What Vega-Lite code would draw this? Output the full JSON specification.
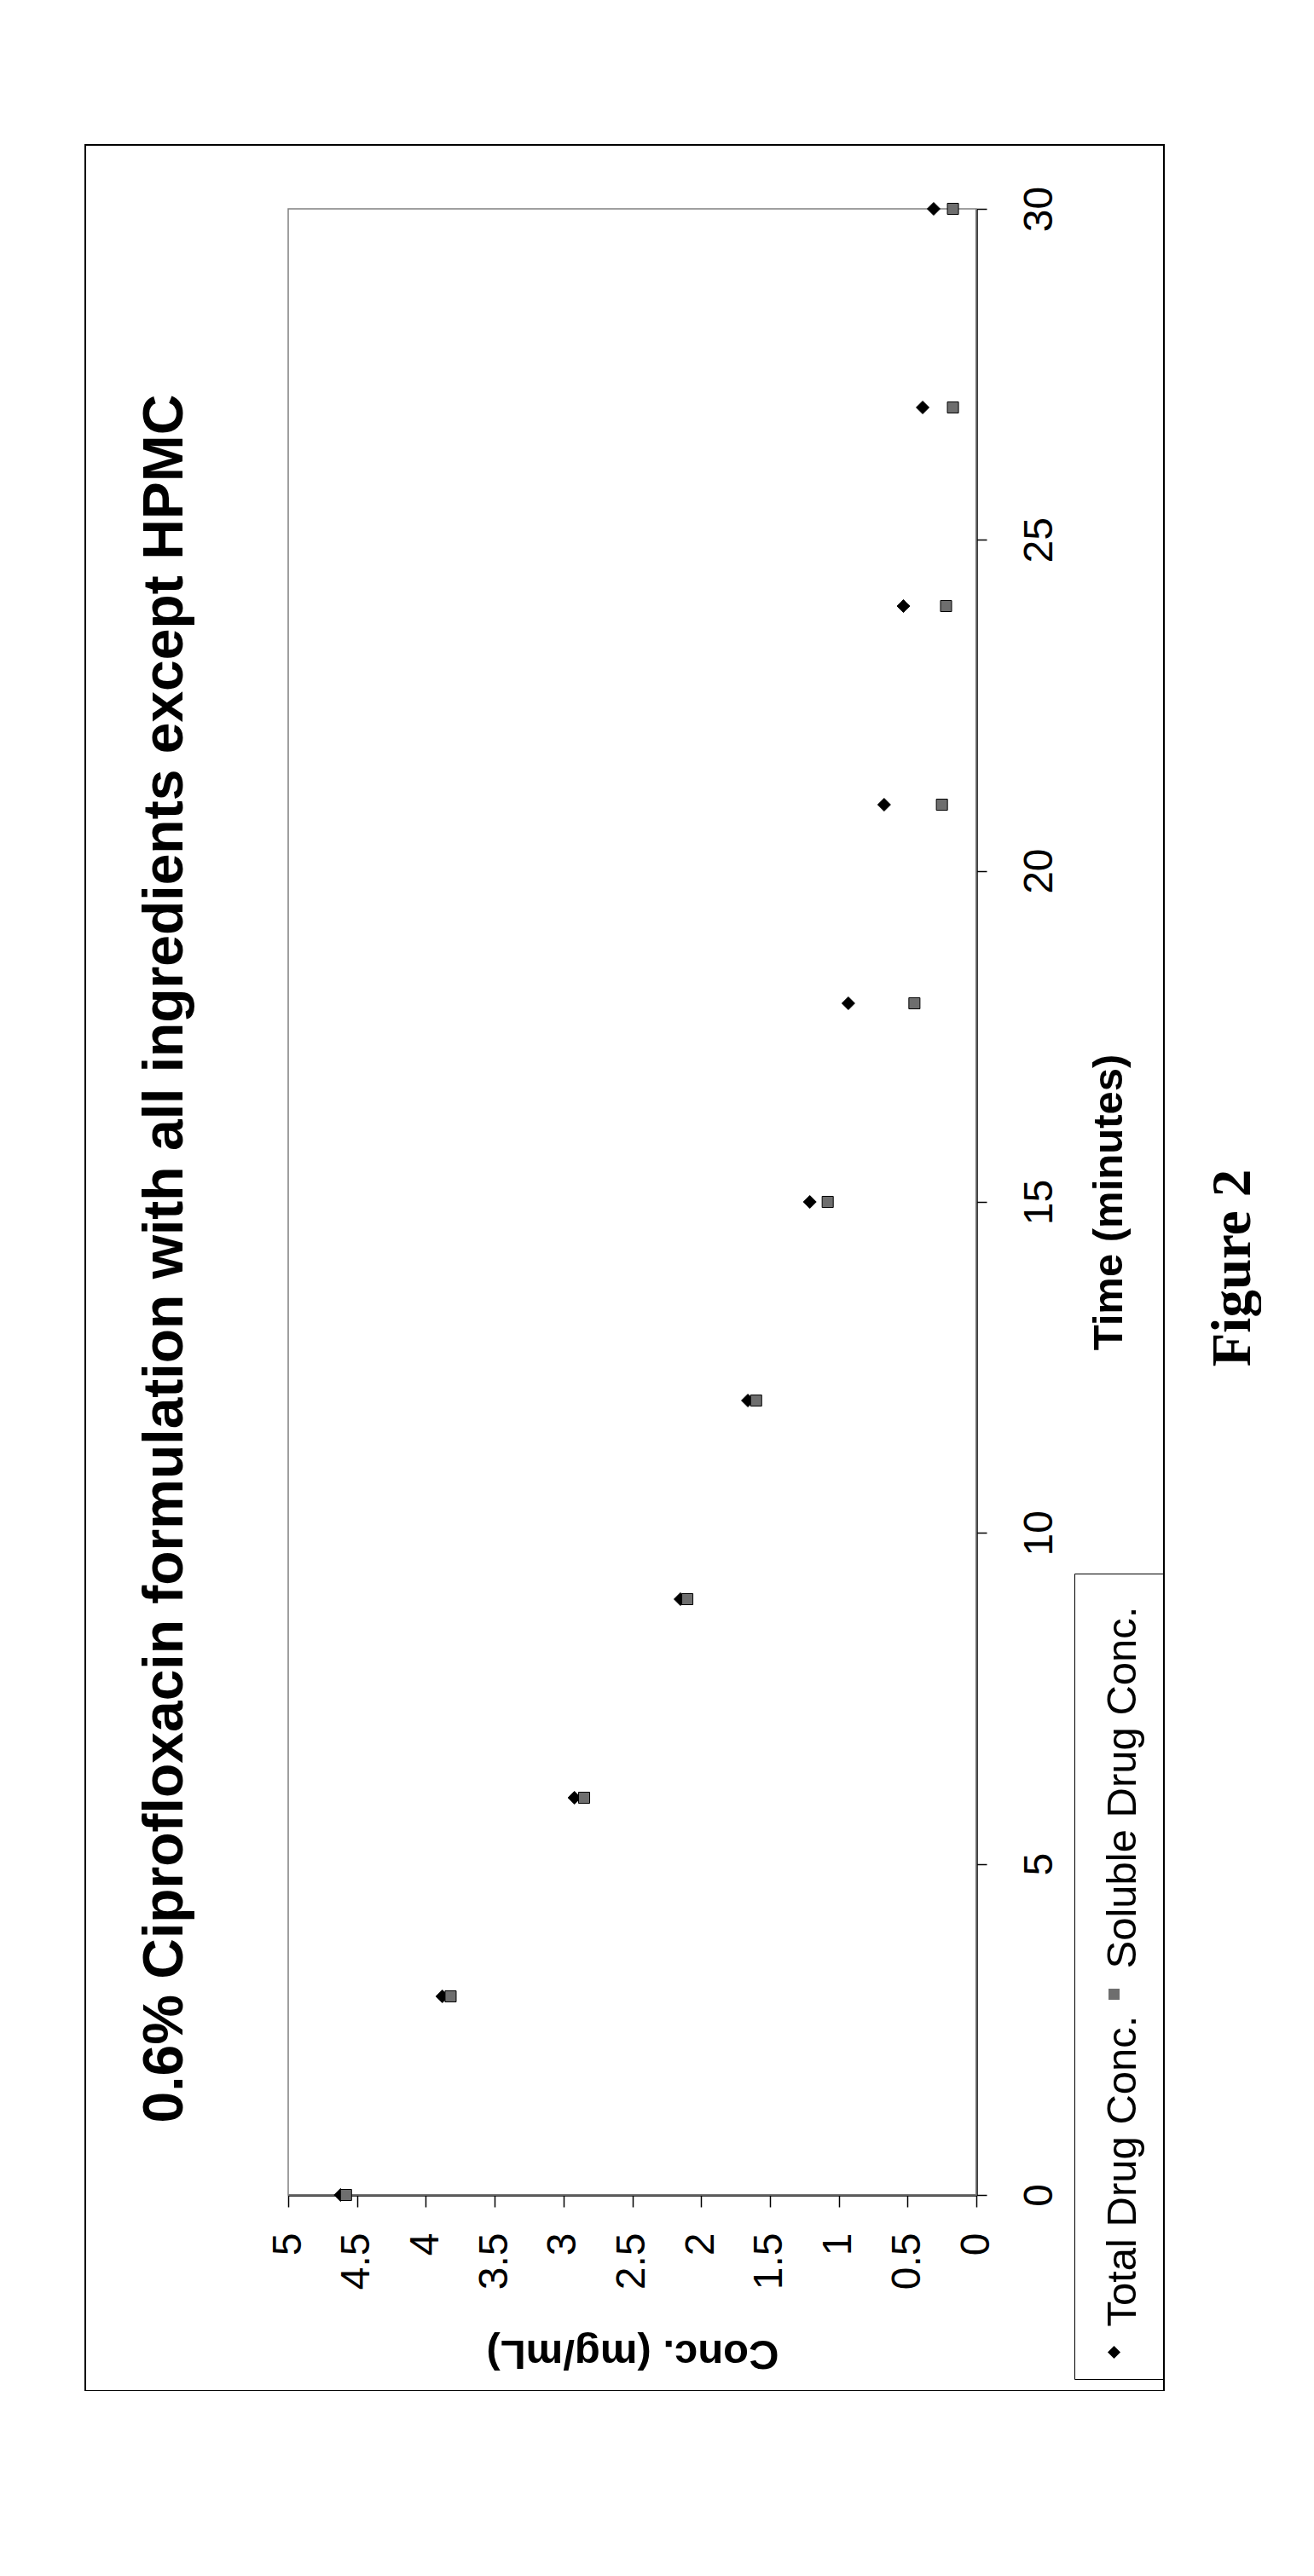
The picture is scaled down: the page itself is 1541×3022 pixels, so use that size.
{
  "$schema": "https://vega.github.io/schema/vega-lite/v6.json",
  "width": 1265,
  "height": 2635,
  "padding": {"left": 100, "top": 170, "right": 0, "bottom": 0},
  "title": {
    "text": "Figure 2",
    "orient": "right",
    "angle": 270,
    "baseline": "top",
    "anchor": "middle",
    "frame": "group",
    "offset": -15,
    "font": "Liberation Serif",
    "fontSize": 65,
    "fontWeight": "bold",
    "color": "black"
  },
  "config": {
    "font": "Liberation Sans",
    "view": {"stroke": "black", "strokeWidth": 2},
    "axis": {"grid": false, "labelColor": "black", "titleColor": "black", "tickColor": "black", "domainColor": "black"}
  },
  "resolve": {"axis": {"x": "independent", "y": "independent"}},
  "layer": [
    {
      "data": {"values": [{}]},
      "mark": {"type": "rect", "fill": "transparent", "stroke": "#808080", "strokeWidth": 1.5},
      "encoding": {
        "x": {"datum": 0, "type": "quantitative", "scale": {"domain": [0, 5], "range": [1045, 238], "nice": false, "zero": false}, "axis": null},
        "x2": {"datum": 5},
        "y": {
          "datum": 0,
          "type": "quantitative",
          "scale": {"domain": [0, 30], "range": [2405, 75], "nice": false, "zero": false},
          "axis": {
            "orient": "left",
            "offset": -127,
            "domain": false,
            "ticks": false,
            "labels": false,
            "title": "0.6% Ciprofloxacin formulation with all ingredients except HPMC",
            "titleFont": "Liberation Sans",
            "titleFontSize": 66,
            "titleFontWeight": "bold",
            "titleAngle": 270,
            "titleBaseline": "bottom",
            "titleAlign": "center",
            "titlePadding": 0,
            "titleY": 1306,
            "titleLimit": 4000
          }
        },
        "y2": {"datum": 30}
      }
    },
    {
      "data": {
        "values": [
          {"time": 0, "series": "Total Drug Conc.", "conc": 4.62},
          {"time": 3, "series": "Total Drug Conc.", "conc": 3.88},
          {"time": 6, "series": "Total Drug Conc.", "conc": 2.92},
          {"time": 9, "series": "Total Drug Conc.", "conc": 2.15},
          {"time": 12, "series": "Total Drug Conc.", "conc": 1.66},
          {"time": 15, "series": "Total Drug Conc.", "conc": 1.21},
          {"time": 18, "series": "Total Drug Conc.", "conc": 0.93},
          {"time": 21, "series": "Total Drug Conc.", "conc": 0.67},
          {"time": 24, "series": "Total Drug Conc.", "conc": 0.53},
          {"time": 27, "series": "Total Drug Conc.", "conc": 0.39},
          {"time": 30, "series": "Total Drug Conc.", "conc": 0.31},
          {"time": 0, "series": "Soluble Drug Conc.", "conc": 4.58},
          {"time": 3, "series": "Soluble Drug Conc.", "conc": 3.82},
          {"time": 6, "series": "Soluble Drug Conc.", "conc": 2.85},
          {"time": 9, "series": "Soluble Drug Conc.", "conc": 2.1},
          {"time": 12, "series": "Soluble Drug Conc.", "conc": 1.6},
          {"time": 15, "series": "Soluble Drug Conc.", "conc": 1.08},
          {"time": 18, "series": "Soluble Drug Conc.", "conc": 0.45},
          {"time": 21, "series": "Soluble Drug Conc.", "conc": 0.25},
          {"time": 24, "series": "Soluble Drug Conc.", "conc": 0.22},
          {"time": 27, "series": "Soluble Drug Conc.", "conc": 0.17},
          {"time": 30, "series": "Soluble Drug Conc.", "conc": 0.17}
        ]
      },
      "mark": {"type": "point", "filled": true, "opacity": 1, "stroke": "black", "strokeWidth": 1},
      "encoding": {
        "x": {
          "field": "conc",
          "type": "quantitative",
          "scale": {"domain": [0, 5], "range": [1045, 238], "nice": false, "zero": false},
          "axis": {
            "orient": "bottom",
            "offset": -230,
            "values": [0, 0.5, 1, 1.5, 2, 2.5, 3, 3.5, 4, 4.5, 5],
            "format": "~g",
            "domainWidth": 2.5,
            "tickSize": 14,
            "tickWidth": 1.5,
            "labelAngle": 270,
            "labelAlign": "right",
            "labelBaseline": "middle",
            "labelPadding": 30,
            "labelFontSize": 48,
            "labelOverlap": false,
            "labelFlush": false,
            "title": "Conc. (mg/mL)",
            "titleFontSize": 49,
            "titleFontWeight": "bold",
            "titleAngle": 180,
            "titleBaseline": "bottom",
            "titleAlign": "center",
            "titlePadding": 50
          }
        },
        "y": {
          "field": "time",
          "type": "quantitative",
          "scale": {"domain": [0, 30], "range": [2405, 75], "nice": false, "zero": false},
          "axis": {
            "orient": "right",
            "offset": -220,
            "values": [0, 5, 10, 15, 20, 25, 30],
            "domainWidth": 2.5,
            "tickSize": 12,
            "tickWidth": 1.5,
            "labelAngle": 270,
            "labelAlign": "center",
            "labelBaseline": "top",
            "labelPadding": 38,
            "labelFontSize": 48,
            "labelOverlap": false,
            "labelFlush": false,
            "title": "Time (minutes)",
            "titleFontSize": 49,
            "titleFontWeight": "bold",
            "titleAngle": 270,
            "titleBaseline": "top",
            "titleAlign": "center",
            "titlePadding": 33
          }
        },
        "fill": {
          "field": "series",
          "type": "nominal",
          "scale": {"domain": ["Soluble Drug Conc.", "Total Drug Conc."], "range": ["#6e6e6e", "#000000"]},
          "legend": {
            "title": " ",
            "titleFontSize": 2,
            "titlePadding": 445,
            "orient": "none",
            "legendX": 1160,
            "legendY": 1676,
            "direction": "vertical",
            "padding": 22,
            "rowPadding": 15,
            "strokeColor": "black",
            "labelFontSize": 49,
            "labelColor": "black",
            "labelLimit": 1000,
            "labelOffset": -14,
            "labelAlign": "left",
            "labelBaseline": "middle",
            "symbolStrokeColor": "black",
            "symbolStrokeWidth": 1,
            "encoding": {"labels": {"angle": {"value": 270}, "dx": {"value": 30}}}
          }
        },
        "shape": {
          "field": "series",
          "type": "nominal",
          "scale": {"domain": ["Soluble Drug Conc.", "Total Drug Conc."], "range": ["square", "diamond"]},
          "legend": {
            "title": " ",
            "titleFontSize": 2,
            "titlePadding": 445,
            "orient": "none",
            "legendX": 1160,
            "legendY": 1676,
            "direction": "vertical",
            "padding": 22,
            "rowPadding": 15,
            "strokeColor": "black",
            "labelFontSize": 49,
            "labelColor": "black",
            "labelLimit": 1000,
            "labelOffset": -14,
            "labelAlign": "left",
            "labelBaseline": "middle",
            "symbolStrokeColor": "black",
            "symbolStrokeWidth": 1,
            "encoding": {"labels": {"angle": {"value": 270}, "dx": {"value": 30}}}
          }
        },
        "size": {
          "field": "series",
          "type": "nominal",
          "scale": {"domain": ["Soluble Drug Conc.", "Total Drug Conc."], "range": [170, 225]},
          "legend": {
            "title": " ",
            "titleFontSize": 2,
            "titlePadding": 445,
            "orient": "none",
            "legendX": 1160,
            "legendY": 1676,
            "direction": "vertical",
            "padding": 22,
            "rowPadding": 15,
            "strokeColor": "black",
            "labelFontSize": 49,
            "labelColor": "black",
            "labelLimit": 1000,
            "labelOffset": -14,
            "labelAlign": "left",
            "labelBaseline": "middle",
            "symbolStrokeColor": "black",
            "symbolStrokeWidth": 1,
            "encoding": {"labels": {"angle": {"value": 270}, "dx": {"value": 30}}}
          }
        }
      }
    }
  ]
}
